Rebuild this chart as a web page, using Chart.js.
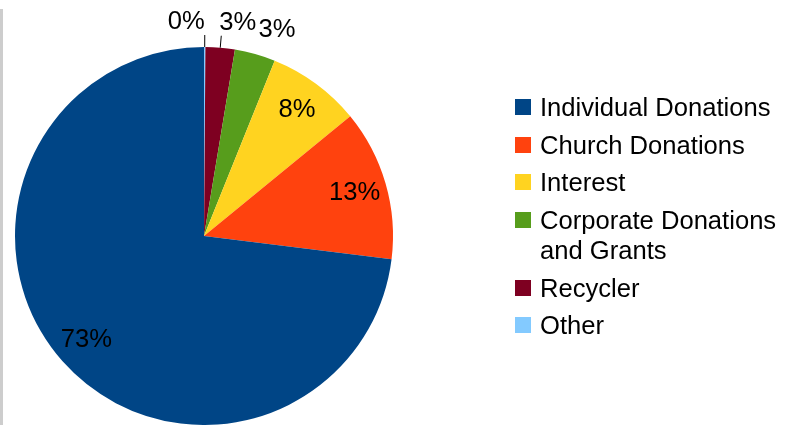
<!DOCTYPE html>
<html>
<head>
<meta charset="utf-8">
<script src="https://cdn.jsdelivr.net/npm/chart.js@4/dist/chart.umd.min.js"></script>
<style>
    html, body { margin: 0; padding: 0; background: #fff; }
    #wrap { position: relative; width: 785px; height: 425px; overflow: hidden; }
    #edge { position: absolute; left: 0; top: 9px; width: 3px; height: 416px; background: #cdcdcd; }
    #legend { position: absolute; left: 515px; top: 92px; width: 270px; font: 25.6px "Liberation Sans", Arial, sans-serif; color: #000; }
    .row { position: relative; padding-left: 25px; line-height: 30px; margin-bottom: 7.7px; }
    .row .box { position: absolute; left: 0; top: 7px; width: 16px; height: 16px; }
</style>
</head>
<body>
<div id="wrap">
    <div id="edge"></div>
    <canvas id="pieChart" width="785" height="425"></canvas>
    <div id="legend"></div>
</div>
<script>
// Data, in drawing order (clockwise from 12 o'clock)
const categories = ['Other', 'Recycler', 'Corporate Donations and Grants', 'Interest', 'Church Donations', 'Individual Donations'];
const shares = [0.12, 2.5, 3.48, 7.98, 12.89, 73.03];
const colors = ['#83caff', '#7e0021', '#579d1c', '#ffd320', '#ff420e', '#004586'];

const labelFont = '25.6px "Liberation Sans", Arial, sans-serif';

// Percent labels: inside for big slices, outside (with leader line) for small ones
const pctLabels = {
    id: 'pctLabels',
    afterDatasetsDraw(chart) {
        const ctx = chart.ctx;
        const meta = chart.getDatasetMeta(0);
        const values = chart.data.datasets[0].data;
        const total = values.reduce((a, b) => a + b, 0);
        ctx.save();
        ctx.font = labelFont;
        ctx.fillStyle = '#000';
        ctx.textBaseline = 'middle';
        meta.data.forEach((arc, i) => {
            const p = arc.getProps(['x', 'y', 'startAngle', 'endAngle', 'outerRadius'], true);
            const mid = (p.startAngle + p.endAngle) / 2;
            const pct = values[i] / total * 100;
            const text = Math.round(pct) + '%';
            if (pct >= 5) {
                const r = p.outerRadius * 0.83;
                ctx.textAlign = 'center';
                ctx.fillText(text, p.x + Math.cos(mid) * r, p.y + Math.sin(mid) * r);
            } else {
                const r = p.outerRadius + 24;
                const x = p.x + Math.cos(mid) * r;
                const y = p.y + Math.sin(mid) * r;
                if (pct < 3) {
                    ctx.strokeStyle = '#000';
                    ctx.lineWidth = 1;
                    ctx.beginPath();
                    ctx.moveTo(p.x + Math.cos(mid) * p.outerRadius, p.y + Math.sin(mid) * p.outerRadius);
                    ctx.lineTo(p.x + Math.cos(mid) * (p.outerRadius + 12), p.y + Math.sin(mid) * (p.outerRadius + 12));
                    ctx.stroke();
                }
                ctx.textAlign = x < p.x + 3 ? 'right' : 'left';
                ctx.fillText(text, ctx.textAlign === 'right' ? x : x - 3, y - 1);
            }
        });
        ctx.restore();
    }
};

const chart = new Chart(document.getElementById('pieChart'), {
    type: 'pie',
    data: {
        labels: categories,
        datasets: [{
            data: shares,
            backgroundColor: colors,
            borderWidth: 0
        }]
    },
    options: {
        responsive: false,
        animation: false,
        layout: { padding: { left: 15, top: 47, right: 392, bottom: 0 } },
        plugins: {
            legend: { display: false },
            tooltip: { enabled: false }
        }
    },
    plugins: [pctLabels]
});

// Legend lists the series in the reverse of the drawing order
const legend = document.getElementById('legend');
for (let i = categories.length - 1; i >= 0; i--) {
    const row = document.createElement('div');
    row.className = 'row';
    const text = categories[i].replace('Donations and', 'Donations<br>and');
    row.innerHTML = `<span class="box" style="background:${colors[i]}"></span>${text}`;
    legend.appendChild(row);
}
</script>
</body>
</html>
